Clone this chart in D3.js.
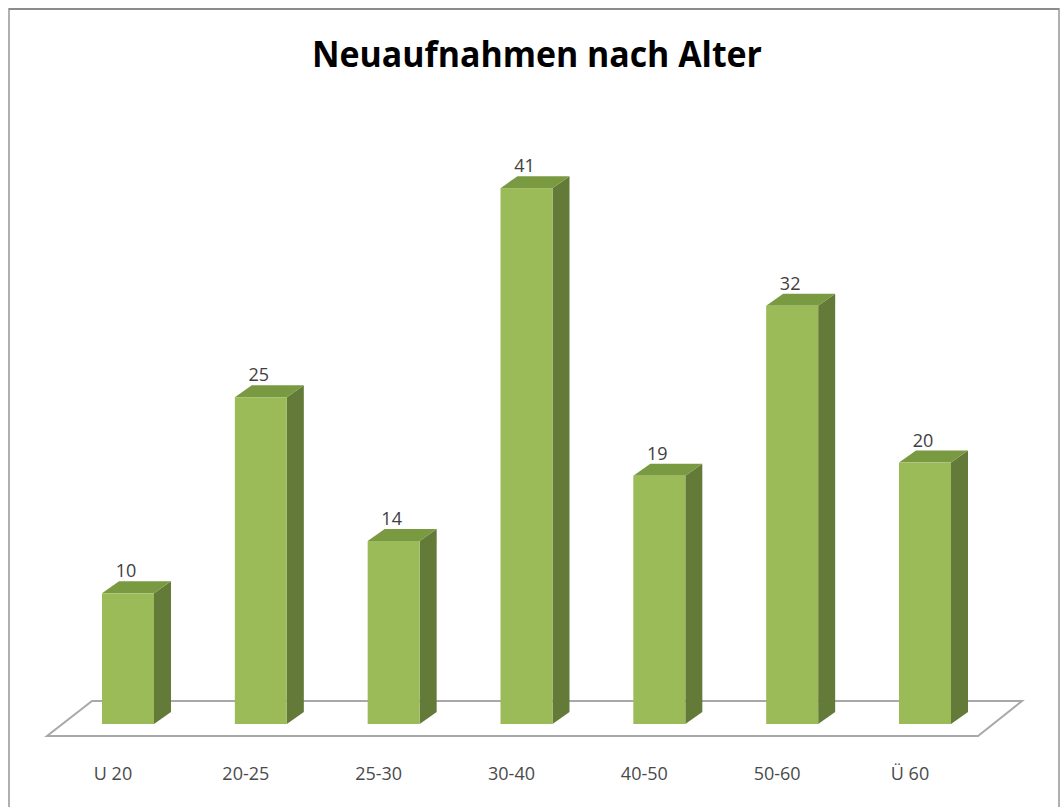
<!DOCTYPE html>
<html><head><meta charset="utf-8">
<script src="https://cdn.jsdelivr.net/npm/d3@7"></script>
<style>html,body{margin:0;padding:0;background:#fff;}</style>
</head><body>
<svg id="c" width="1061" height="807"></svg>
<script>
const title = "Neuaufnahmen nach Alter";
const categories = ["U 20","20-25","25-30","30-40","40-50","50-60","Ü 60"];
const values = [10,25,14,41,19,32,20];

const svg = d3.select("#c");
const W = 1061, H = 807;
const base = 724;
const depthX = 17, depthY = -12;
const barW = 52;

// frame
svg.append("rect").attr("x",9).attr("y",9).attr("width",1050).attr("height",820)
  .attr("fill","none").attr("stroke","#b0b0b0").attr("stroke-width",2);
svg.append("line").attr("x1",9).attr("x2",1059).attr("y1",9).attr("y2",9)
  .attr("stroke","#8c8c8c").attr("stroke-width",2);

const x = d3.scalePoint().domain(categories).range([128, 925]);
const y = d3.scaleLinear().domain([0,45]).range([base, base - 45*13.07]);

// floor
const floor = [[47,736],[92,701],[1022,701],[978,736]];
svg.append("path").attr("d", d3.line()(floor) + "Z")
  .attr("fill","#fff").attr("stroke","#a8a8a8").attr("stroke-width",2);

// title
svg.append("text").attr("x",537).attr("y",67).attr("text-anchor","middle")
  .attr("font-family","Open Sans").attr("font-weight","bold").attr("font-size",36)
  .attr("fill","#000").attr("textLength",450).attr("lengthAdjust","spacingAndGlyphs")
  .text(title);

const g = svg.append("g");
const data = categories.map((c,i)=>({c, v: values[i]}));
data.forEach(d=>{
  const x0 = x(d.c) - barW/2, x1 = x0 + barW;
  const yt = y(d.v), yb = y(0);
  // side
  g.append("path").attr("d", d3.line()([[x1,yb],[x1,yt],[x1+depthX,yt+depthY],[x1+depthX,yb+depthY]])+"Z")
    .attr("fill","#647a39");
  // top
  g.append("path").attr("d", d3.line()([[x0,yt],[x0+depthX,yt+depthY],[x1+depthX,yt+depthY],[x1,yt]])+"Z")
    .attr("fill","#7a9a42");
  // front
  g.append("rect").attr("x",x0).attr("y",yt).attr("width",barW).attr("height",yb-yt)
    .attr("fill","#9bbb59");
  // value label
  g.append("text").attr("x", x(d.c)-2).attr("y", yt-16).attr("text-anchor","middle")
    .attr("font-family","Open Sans").attr("font-size",18).attr("fill","#404040")
    .text(d.v);
  // category label
  g.append("text").attr("x", x(d.c)-15).attr("y", 780).attr("text-anchor","middle")
    .attr("font-family","Open Sans").attr("font-size",18).attr("fill","#4a4a4a")
    .text(d.c);
});
</script>
</body></html>
